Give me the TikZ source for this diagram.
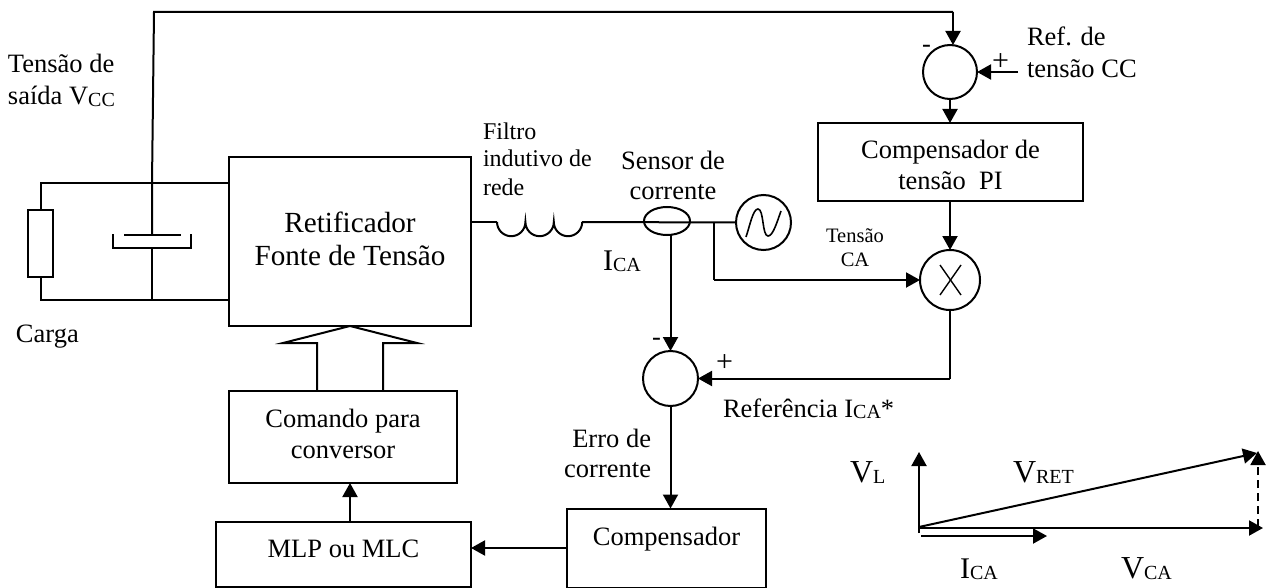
\documentclass[tikz,border=0pt]{standalone}
\usepackage{fontspec}
\setmainfont{Liberation Serif}
\usetikzlibrary{arrows.meta,shapes.geometric}
\newcommand{\subt}[3][20]{#2\raisebox{-1.5pt}{\fontsize{#1}{#1}\selectfont #3}}
\newcommand{\rowsat}[2]{\raisebox{#1}[0pt][0pt]{\begin{tabular}[t]{@{}c@{}}#2\end{tabular}}}
\tikzset{
  x=1pt,y=-1pt,
  wire/.style={draw,line width=2pt},
  arr/.style={wire,-{Triangle[length=14pt,width=15pt]}},
  blockbox/.style={draw,line width=2pt,inner sep=0,outer sep=0,align=center,font=\fontsize{26.5}{30.5}\selectfont},
  junction/.style={draw,circle,line width=2pt,inner sep=0,outer sep=0,minimum size=55pt},
  lab/.style={inner sep=0,outer sep=0,align=left,anchor=base west,font=\fontsize{26.5}{30.5}\selectfont},
  labc/.style={inner sep=0,outer sep=0,align=center,anchor=base,font=\fontsize{26.5}{30.5}\selectfont},
  labr/.style={inner sep=0,outer sep=0,anchor=base east,font=\fontsize{26.5}{30.5}\selectfont},
  biglab/.style={lab,font=\fontsize{30}{30}\selectfont},
  vlab/.style={lab,font=\fontsize{32}{32}\selectfont},
  filtlab/.style={lab,font=\fontsize{24}{28}\selectfont},
  smalllab/.style={labc,font=\fontsize{20.5}{24}\selectfont},
}
\begin{document}
\begin{tikzpicture}
\useasboundingbox (0,0) rectangle (1273,588);
% blocks
\node[blockbox,minimum width=242pt,minimum height=169pt,font=\fontsize{29.2}{33}\selectfont] (ret) at (350,241.5) {\rowsat{9.5pt}{Retificador\\Fonte de Tensão}};
\node[blockbox,minimum width=228pt,minimum height=92pt,font=\fontsize{26.5}{31}\selectfont] (cmd) at (343,437) {\rowsat{10pt}{Comando para\\conversor}};
\node[blockbox,minimum width=255pt,minimum height=65pt] (mlp) at (343.5,554.5) {\rowsat{-2.5pt}{MLP ou MLC}};
\node[blockbox,minimum width=199pt,minimum height=79pt] (comp) at (666.5,548) {\rowsat{3pt}{Compensador}};
\node[blockbox,minimum width=265pt,minimum height=78pt] (pi) at (950.5,162) {\rowsat{3pt}{Compensador de\\tensão\ \ PI}};
% circles
\node[junction,minimum size=54pt] (s1) at (950,72) {};
\node[junction,minimum size=60pt] (mult) at (950,280) {};
\node[junction] (s2) at (670.5,378.5) {};
\node[junction] (src) at (763.5,222.5) {};
\node[draw,ellipse,line width=2pt,inner sep=0,outer sep=0,minimum width=46pt,minimum height=28pt] (sens) at (667,221) {};
% load resistor
\node[draw,line width=2pt,inner sep=0,outer sep=0,minimum width=25pt,minimum height=67pt] (rl) at (40.5,243) {};
% waypoints
\coordinate (rtop) at (40.5,183);
\coordinate (rbot) at (40.5,300);
\coordinate (captop) at (152,183);
\coordinate (capbot) at (152,300);
\coordinate (retT) at (229,183);
\coordinate (retB) at (229,300);
\coordinate (plate) at (152,235);
\coordinate (pl) at (124,235);
\coordinate (pr) at (181,235);
\coordinate (cupbase) at (152,248);
\coordinate (cl) at (113,234);
\coordinate (cl2) at (113,248);
\coordinate (cr) at (191,234);
\coordinate (cr2) at (191,248);
\coordinate (fbk) at (154,12);
\coordinate (fbkr) at (953,12);
\coordinate (ref) at (1018,72);
\coordinate (retR) at (471,222);
\coordinate (lstart) at (497,222);
\coordinate (lend) at (582,222);
\coordinate (tap) at (714,222);
\coordinate (tapb) at (714,280);
\coordinate (mb) at (950,378.5);
\coordinate (cmdin) at (350,522);
% power circuit
\draw[wire] (rl.north) -- (rtop) -- (retT);
\draw[wire] (rl.south) -- (rbot) -- (retB);
\draw[wire,line join=miter] (fbkr) -- (fbk) -- (captop) -- (plate);
\draw[wire] (pl) -- (pr);
\draw[wire,line join=miter] (cl) -- (cl2) -- (cr2) -- (cr);
\draw[wire] (cupbase) -- (capbot);
% feedback
\draw[arr] (fbkr) -- (fbkr |- s1.north);
\draw[arr] (ref) -- (s1.east);
\draw[arr] (s1.south) -- (pi.north -| s1.south);
\draw[arr] (pi.south -| mult.north) -- (mult.north);
% line
\draw[wire] (retR) -- (lstart);
\draw[wire] (lstart) arc[start angle=180,end angle=0,radius=14.2] arc[start angle=180,end angle=0,radius=14.2] arc[start angle=180,end angle=0,radius=14.2];
\draw[wire] (lend) -- (src.west);
\draw[wire] (tap) -- (tapb);
\draw[arr] (tapb) -- (mult.west);
\draw[arr] (sens.south -| s2.north) -- (s2.north);
\draw[wire] (mult.south) -- (mb);
\draw[arr] (mb) -- (s2.east);
\draw[arr] (s2.south) -- (comp.north -| s2.south);
\draw[arr] (comp.west) -- (mlp.east |- comp.west);
\draw[arr] (cmdin) -- (cmd.south -| cmdin);
% hollow arrow
\coordinate (ha) at (317,391);
\coordinate (hb) at (317,343);
\coordinate (hc) at (283,343);
\coordinate (hd) at (350,326);
\coordinate (he) at (417,343);
\coordinate (hf) at (383,343);
\coordinate (hg) at (383,391);
\draw[wire,line join=miter] (ha) -- (hb) -- (hc) -- (hd) -- (he) -- (hf) -- (hg);
% source symbol
\draw[line width=1.6pt] (746,237) .. controls (750,225) and (753,209) .. (758,209) .. controls (764,209) and (762,236) .. (768,236) .. controls (773,236) and (777,222) .. (781,211);
% multiplier cross
\draw[line width=1.4pt] (940,265) -- (961,295);
\draw[line width=1.4pt] (961,265) -- (940,295);
% phasors
\coordinate (o) at (919,527);
\coordinate (ob) at (919,533);
\coordinate (vl) at (919,452);
\coordinate (vret) at (1257,453);
\coordinate (vca0) at (919,528);
\coordinate (vca) at (1263,528);
\coordinate (ica0) at (921,536);
\coordinate (ica) at (1047,536);
\coordinate (vd0) at (1258,527);
\coordinate (vd) at (1258,451);
\draw[arr] (ob) -- (vl);
\draw[arr] (o) -- (vret);
\draw[arr] (vca0) -- (vca);
\draw[arr] (ica0) -- (ica);
\draw[arr,dash pattern=on 8pt off 5pt] (vd0) -- (vd);
% labels
\node[lab] (t1) at (8,73) {Tensão de};
\node[lab] (t2) at (8,105) {\subt{saída V}{CC}};
\node[lab] (t3) at (16,342) {Carga};
\node[filtlab] (t4) at (483,140) {Filtro};
\node[filtlab] (t5) at (483,167) {indutivo de};
\node[filtlab] (t6) at (483,196) {rede};
\node[labc] (t7) at (673,170) {Sensor de};
\node[labc] (t8) at (673,199) {corrente};
\node[biglab] (t9) at (603,270) {\subt{I}{CA}};
\node[smalllab] (t10) at (855,242) {Tensão};
\node[smalllab] (t11) at (855,266) {CA};
\node[lab] (t12) at (1027,46) {Ref. de};
\node[lab] (t13) at (1027,78) {tensão CC};
\node[lab] (m1) at (922,53) {-};
\node[biglab] (p1) at (992,71) {+};
\node[lab] (m2) at (652,345) {-};
\node[biglab] (p2) at (716,371) {+};
\node[lab] (t14) at (723,417) {\subt{Referência I}{CA}*};
\node[labr] (t15) at (651,447) {Erro de};
\node[labr] (t16) at (651,477) {corrente};
\node[vlab] (t17) at (850,482) {\subt{V}{L}};
\node[vlab] (t18) at (1013,482) {\subt{V}{RET}};
\node[biglab] (t19) at (960,578) {\subt{I}{CA}};
\node[vlab] (t20) at (1121,578) {\subt{V}{CA}};
\end{tikzpicture}
\end{document}
